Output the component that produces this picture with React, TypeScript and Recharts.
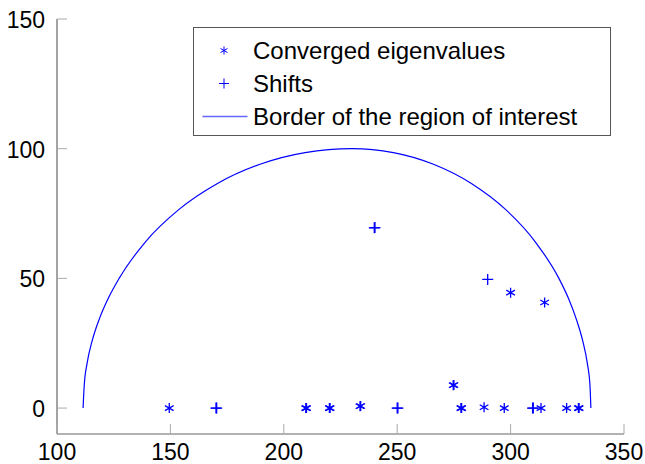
import React from "react";
import { ComposedChart, Line, Scatter, XAxis, YAxis } from "recharts";

const xTicks = [100, 150, 200, 250, 300, 350];
const yTicks = [0, 50, 100, 150];
const seriesNames = ["Converged eigenvalues", "Shifts", "Border of the region of interest"];

const converged = [
  { x: 149.5, y: 0 },
  { x: 209.7, y: 0 }, { x: 210.0, y: 0 },
  { x: 220.1, y: 0 }, { x: 220.4, y: 0 },
  { x: 233.6, y: 0.7 }, { x: 233.9, y: 0.8 },
  { x: 274.7, y: 8.8 }, { x: 275.0, y: 8.9 },
  { x: 278.1, y: 0 }, { x: 278.4, y: 0 },
  { x: 288.3, y: 0.3 },
  { x: 297.2, y: 0 },
  { x: 313.4, y: 0 },
  { x: 324.7, y: 0 },
  { x: 329.9, y: 0 }, { x: 330.2, y: 0 },
  { x: 300.0, y: 44.5 },
  { x: 315.0, y: 40.7 },
];

const shifts = [
  { x: 170.1, y: 0 }, { x: 170.4, y: 0 },
  { x: 250.0, y: 0 }, { x: 250.3, y: 0 },
  { x: 309.7, y: 0 }, { x: 310.0, y: 0 },
  { x: 239.9, y: 69.5 }, { x: 240.2, y: 69.6 },
  { x: 289.9, y: 49.6 },
];

const border = [
  { x: 111.5, y: 0 },
  { x: 112.0, y: 8.7 },
  { x: 113.3, y: 17.4 },
  { x: 115.5, y: 25.9 },
  { x: 118.6, y: 34.2 },
  { x: 122.6, y: 42.3 },
  { x: 127.4, y: 50 },
  { x: 139.2, y: 64.3 },
  { x: 153.8, y: 76.6 },
  { x: 170.75, y: 86.6 },
  { x: 189.5, y: 94.0 },
  { x: 209.4, y: 98.5 },
  { x: 230, y: 100 },
  { x: 248.3, y: 98.5 },
  { x: 266.0, y: 94.0 },
  { x: 282.7, y: 86.6 },
  { x: 297.75, y: 76.6 },
  { x: 310.7, y: 64.3 },
  { x: 321.3, y: 50 },
  { x: 325.5, y: 42.3 },
  { x: 329.0, y: 34.2 },
  { x: 331.8, y: 25.9 },
  { x: 333.8, y: 17.4 },
  { x: 335.0, y: 8.7 },
  { x: 335.4, y: 0 },
];

const BLUE = "#0000ff";
const FONT = "'Liberation Sans', Arial, sans-serif";

function starPath(cx: number, cy: number, r: number) {
  const dx = r * Math.cos(Math.PI / 6);
  const dy = r * Math.sin(Math.PI / 6);
  return `M${cx},${cy - r}L${cx},${cy + r}M${cx - dx},${cy - dy}L${cx + dx},${cy + dy}M${cx - dx},${cy + dy}L${cx + dx},${cy - dy}`;
}
function plusPath(cx: number, cy: number, r: number) {
  return `M${cx - r},${cy}L${cx + r},${cy}M${cx},${cy - r}L${cx},${cy + r}`;
}

const StarShape = (props: any) => (
  <path d={starPath(props.cx, props.cy, 5)} stroke={BLUE} strokeWidth={1.3} fill="none" />
);
const PlusShape = (props: any) => (
  <path d={plusPath(props.cx, props.cy, 5.5)} stroke={BLUE} strokeWidth={1.3} fill="none" />
);

const XTick = (props: any) => {
  const { x, y, payload } = props;
  return (
    <g>
      <line x1={x} y1={y} x2={x} y2={y - 10} stroke="#aaaaaa" strokeWidth={1} />
      <text x={x} y={y + 26} textAnchor="middle" fontSize={23} fontFamily={FONT} fill="#000">
        {payload.value}
      </text>
    </g>
  );
};

const YTick = (props: any) => {
  const { x, y, payload } = props;
  return (
    <g>
      <line x1={x} y1={y} x2={x + 10} y2={y} stroke="#aaaaaa" strokeWidth={1} />
      <text x={x - 12} y={y + 9} textAnchor="end" fontSize={23} fontFamily={FONT} fill="#000">
        {payload.value}
      </text>
    </g>
  );
};

const LegendBox = () => {
  const icons = [
    <path key="s" d={starPath(30, 16.5, 4)} stroke={BLUE} strokeWidth={1} fill="none" />,
    <path key="p" d={plusPath(30, 16.5, 5)} stroke={BLUE} strokeWidth={1} fill="none" />,
    <line key="l" x1={8.5} y1={16.5} x2={53.5} y2={16.5} stroke={BLUE} strokeOpacity={0.6} strokeWidth={1.3} />,
  ];
  return (
    <div
      style={{
        position: "absolute",
        left: 193,
        top: 27,
        width: 418,
        height: 109,
        border: "1px solid #555",
        background: "#fff",
        boxSizing: "border-box",
        paddingTop: 6,
        fontFamily: FONT,
        fontSize: 24,
        color: "#000",
      }}
    >
      {seriesNames.map((name, i) => (
        <div key={name} style={{ display: "flex", alignItems: "center", height: 33 }}>
          <svg width={59} height={33} style={{ flex: "none" }}>
            {icons[i]}
          </svg>
          <span style={{ whiteSpace: "nowrap", lineHeight: "33px" }}>{name}</span>
        </div>
      ))}
    </div>
  );
};

export default function App() {
  return (
    <div style={{ position: "absolute", left: 0, top: 0, width: 645, height: 464, background: "#fff" }}>
      <ComposedChart width={645} height={464} margin={{ top: 19, right: 21, bottom: 0, left: 0 }}>
        <XAxis
          type="number"
          dataKey="x"
          domain={[100, 350]}
          ticks={xTicks}
          allowDataOverflow
          height={30}
          tickSize={0}
          tickMargin={0}
          tick={<XTick />}
          axisLine={{ stroke: "#666", strokeWidth: 1.2 }}
          tickLine={false}
          interval={0}
        />
        <YAxis
          type="number"
          dataKey="y"
          domain={[-10, 150]}
          ticks={yTicks}
          allowDataOverflow
          width={57}
          tickSize={0}
          tickMargin={0}
          tick={<YTick />}
          axisLine={{ stroke: "#666", strokeWidth: 1.2 }}
          tickLine={false}
          interval={0}
        />
        <Line
          data={border}
          dataKey="y"
          type="monotone"
          stroke={BLUE}
          strokeWidth={1.2}
          dot={false}
          activeDot={false}
          isAnimationActive={false}
          name={seriesNames[2]}
        />
        <Scatter data={converged} dataKey="y" shape={<StarShape />} isAnimationActive={false} name={seriesNames[0]} />
        <Scatter data={shifts} dataKey="y" shape={<PlusShape />} isAnimationActive={false} name={seriesNames[1]} />
      </ComposedChart>
      <LegendBox />
    </div>
  );
}
